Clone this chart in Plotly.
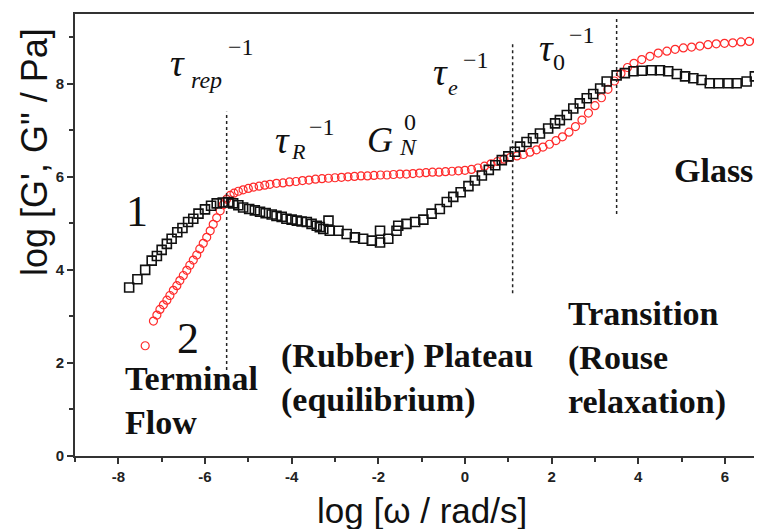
import plotly.graph_objects as go

# ---------------- data ----------------
curve1_logw = [-7.75, -7.56, -7.38, -7.23, -7.11, -7.00, -6.88, -6.77, -6.64, -6.52,
               -6.39, -6.27, -6.15, -6.00, -5.86, -5.73, -5.59, -5.46, -5.35, -5.23,
               -5.12, -4.98, -4.85, -4.73, -4.60, -4.46, -4.35, -4.23, -4.12, -4.00,
               -3.88, -3.77, -3.65, -3.54, -3.42, -3.35, -3.27, -3.15, -3.12, -2.92,
               -2.73, -2.54, -2.35, -2.15, -1.96, -1.96, -1.77, -1.58, -1.54, -1.35,
               -1.15, -0.96, -0.77, -0.58, -0.42, -0.27, -0.10, 0.08, 0.23, 0.39,
               0.55, 0.70, 0.85, 1.00, 1.15, 1.27, 1.42, 1.57, 1.73, 1.92,
               2.08, 2.19, 2.35, 2.50, 2.65, 2.81, 2.96, 3.12, 3.27, 3.50,
               3.69, 3.89, 4.08, 4.31, 4.50, 4.69, 4.89, 5.08, 5.27, 5.46,
               5.65, 5.85, 6.08, 6.27, 6.50, 6.69, 6.88]
curve1_logG = [3.62, 3.80, 4.00, 4.20, 4.30, 4.43, 4.56, 4.67, 4.81, 4.90,
               5.03, 5.10, 5.21, 5.30, 5.38, 5.43, 5.45, 5.46, 5.43, 5.39,
               5.34, 5.31, 5.28, 5.25, 5.22, 5.19, 5.16, 5.14, 5.10, 5.08,
               5.06, 5.04, 5.03, 4.99, 4.95, 4.92, 4.88, 5.06, 4.84, 4.84,
               4.77, 4.70, 4.67, 4.63, 4.59, 4.84, 4.67, 4.84, 4.95, 4.99,
               5.03, 5.08, 5.21, 5.31, 5.46, 5.57, 5.67, 5.80, 5.92, 6.03,
               6.15, 6.25, 6.36, 6.44, 6.54, 6.65, 6.75, 6.83, 6.93, 7.04,
               7.15, 7.22, 7.33, 7.47, 7.58, 7.69, 7.78, 7.90, 8.05, 8.18,
               8.23, 8.27, 8.28, 8.29, 8.29, 8.27, 8.21, 8.16, 8.12, 8.08,
               8.01, 8.01, 8.01, 8.01, 8.05, 8.16, 8.28]

curve2_logw = [-7.38, -7.19, -7.11, -7.04, -6.96, -6.88, -6.81, -6.73, -6.65, -6.58,
               -6.50, -6.42, -6.35, -6.27, -6.19, -6.12, -6.04, -5.96, -5.88, -5.81,
               -5.73, -5.65, -5.58, -5.50, -5.42, -5.33, -5.23, -5.12, -5.00, -4.88,
               -4.75, -4.62, -4.50, -4.35, -4.20, -4.05, -3.90, -3.75, -3.60, -3.45,
               -3.30, -3.15, -3.00, -2.85, -2.70, -2.55, -2.40, -2.25, -2.10, -1.95,
               -1.80, -1.65, -1.50, -1.35, -1.20, -1.05, -0.90, -0.75, -0.60, -0.45,
               -0.30, -0.15, 0.00, 0.15, 0.30, 0.45, 0.60, 0.75, 0.90, 1.05,
               1.20, 1.35, 1.50, 1.65, 1.80, 1.95, 2.10, 2.25, 2.40, 2.55,
               2.70, 2.85, 3.00, 3.15, 3.30, 3.45, 3.60, 3.75, 3.90, 4.08,
               4.27, 4.46, 4.66, 4.85, 5.04, 5.23, 5.42, 5.61, 5.80, 5.99,
               6.18, 6.37, 6.56, 6.75]
curve2_logG = [2.37, 2.90, 3.03, 3.15, 3.25, 3.35, 3.45, 3.56, 3.66, 3.77,
               3.88, 3.99, 4.10, 4.21, 4.32, 4.45, 4.57, 4.70, 4.84, 4.98,
               5.12, 5.27, 5.40, 5.52, 5.60, 5.65, 5.69, 5.72, 5.75, 5.78,
               5.80, 5.82, 5.84, 5.86, 5.87, 5.89, 5.90, 5.92, 5.93, 5.95,
               5.96, 5.97, 5.98, 5.99, 6.00, 6.01, 6.02, 6.02, 6.03, 6.04,
               6.04, 6.05, 6.06, 6.06, 6.07, 6.08, 6.09, 6.10, 6.10, 6.11,
               6.12, 6.13, 6.14, 6.16, 6.19, 6.23, 6.28, 6.33, 6.38, 6.42,
               6.45, 6.48, 6.53, 6.58, 6.64, 6.70, 6.78, 6.86, 6.96, 7.08,
               7.22, 7.37, 7.53, 7.70, 7.88, 8.06, 8.22, 8.35, 8.44, 8.52,
               8.59, 8.66, 8.70, 8.74, 8.77, 8.79, 8.81, 8.84, 8.86, 8.87,
               8.88, 8.90, 8.91, 8.93]

x_tick_vals = [-8, -6, -4, -2, 0, 2, 4, 6]
x_tick_text = ["-8", "-6", "-4", "-2", "0", "2", "4", "6"]
x_minor_vals = [-9, -7, -5, -3, -1, 1, 3, 5]
y_tick_vals = [0, 2, 4, 6, 8]
y_tick_text = ["0", "2", "4", "6", "8"]
y_minor_vals = [1, 3, 5, 7, 9]

boundary_x = [-5.5, 1.1, 3.5]
boundary_y0 = [1.85, 3.5, 5.2]
boundary_y1 = [7.4, 8.85, 9.4]

# ---------------- layout geometry ----------------
OFF = 8                      # default body margin of the html page
W, H = 762 - OFF, 529 - OFF
L, R, T, B = 75 - OFF, 0, 14 - OFF, 73
PW, PH = W - L - R, H - T - B


def px(x):
    return (x - OFF - L) / PW


def py(y):
    return (H - B - (y - OFF)) / PH


SERIF = "Liberation Serif, Times New Roman, serif"
SANS = "Liberation Sans, Arial, sans-serif"

fig = go.Figure()
fig.add_trace(go.Scatter(
    x=curve2_logw, y=curve2_logG, mode="markers", name="2",
    marker=dict(symbol="circle-open", size=8, color="#ff2a2a",
                line=dict(width=1.2, color="#ff2a2a")),
))
fig.add_trace(go.Scatter(
    x=curve1_logw, y=curve1_logG, mode="markers", name="1",
    marker=dict(symbol="square-open", size=9, color="#111111",
                line=dict(width=1.6, color="#111111")),
))

for bx, b0, b1 in zip(boundary_x, boundary_y0, boundary_y1):
    fig.add_shape(type="line", xref="x", yref="y", x0=bx, x1=bx, y0=b0, y1=b1,
                  line=dict(color="#222222", width=1.5, dash="dot"))

ann = []


def add(text, x, y, size, family=SERIF, xanchor="center", yanchor="middle",
        align="center", angle=0, color="#111111"):
    ann.append(dict(text=text, x=px(x), y=py(y), xref="paper", yref="paper",
                    showarrow=False, xanchor=xanchor, yanchor=yanchor, align=align,
                    textangle=angle, font=dict(family=family, size=size, color=color)))


# tau labels
add("<i>τ</i>", 177, 63, 38)
add("<i>rep</i>", 206, 80, 24)
add("−1", 241, 47, 24)
add("<i>τ</i>", 282, 140, 38)
add("<i>R</i>", 298, 151, 22)
add("−1", 322, 127, 24)
add("<i>G</i>", 380, 140, 36)
add("<i>N</i>", 408, 147, 24)
add("0", 410, 122, 24)
add("<i>τ</i>", 440, 72, 38)
add("<i>e</i>", 453, 88, 22)
add("−1", 476, 60, 24)
add("<i>τ</i>", 546, 48, 38)
add("0", 559, 62, 24)
add("−1", 582, 35, 24)

add("1", 137, 212, 44)
add("2", 188, 338, 44)

add("<b>Terminal<br>Flow</b>", 123, 400, 34, xanchor="left", align="left")
add("<b>(Rubber) Plateau<br>(equilibrium)</b>", 279, 378, 34, xanchor="left", align="left")
add("<b>Transition<br>(Rouse<br>relaxation)</b>", 566, 358, 34, xanchor="left", align="left")
add("<b>Glass</b>", 713, 171, 34)

# axis titles
add("log [ω / rad/s]", 422, 510, 35, family=SANS)
add("log [G', G\" / Pa]", 34, 152, 36, family=SANS, angle=-90)

fig.update_layout(
    width=W, height=H,
    margin=dict(l=L, r=R, t=T, b=B, pad=0),
    paper_bgcolor="white", plot_bgcolor="white",
    showlegend=False,
    annotations=ann,
    xaxis=dict(range=[-9, -9 + PW / 43.33], showgrid=False, zeroline=False,
               showline=True, linewidth=2, linecolor="#333333", mirror=True,
               ticks="outside", ticklen=6, tickwidth=1.5, tickcolor="#333333",
               tickvals=x_tick_vals, ticktext=["<b>%s</b>" % t for t in x_tick_text],
               tickfont=dict(family=SANS, size=15, color="#222222"),
               minor=dict(tickvals=x_minor_vals, ticks="outside", ticklen=4,
                          tickwidth=1.5, tickcolor="#333333", showgrid=False)),
    yaxis=dict(range=[0, 9.5], showgrid=False, zeroline=False,
               showline=True, linewidth=2, linecolor="#333333",
               ticks="outside", ticklen=6, tickwidth=1.5, tickcolor="#333333",
               tickvals=y_tick_vals, ticktext=["<b>%s</b>" % t for t in y_tick_text],
               tickfont=dict(family=SANS, size=15, color="#222222"),
               minor=dict(tickvals=y_minor_vals, ticks="outside", ticklen=4,
                          tickwidth=1.5, tickcolor="#333333", showgrid=False)),
)

fig.write_html("out.html")
